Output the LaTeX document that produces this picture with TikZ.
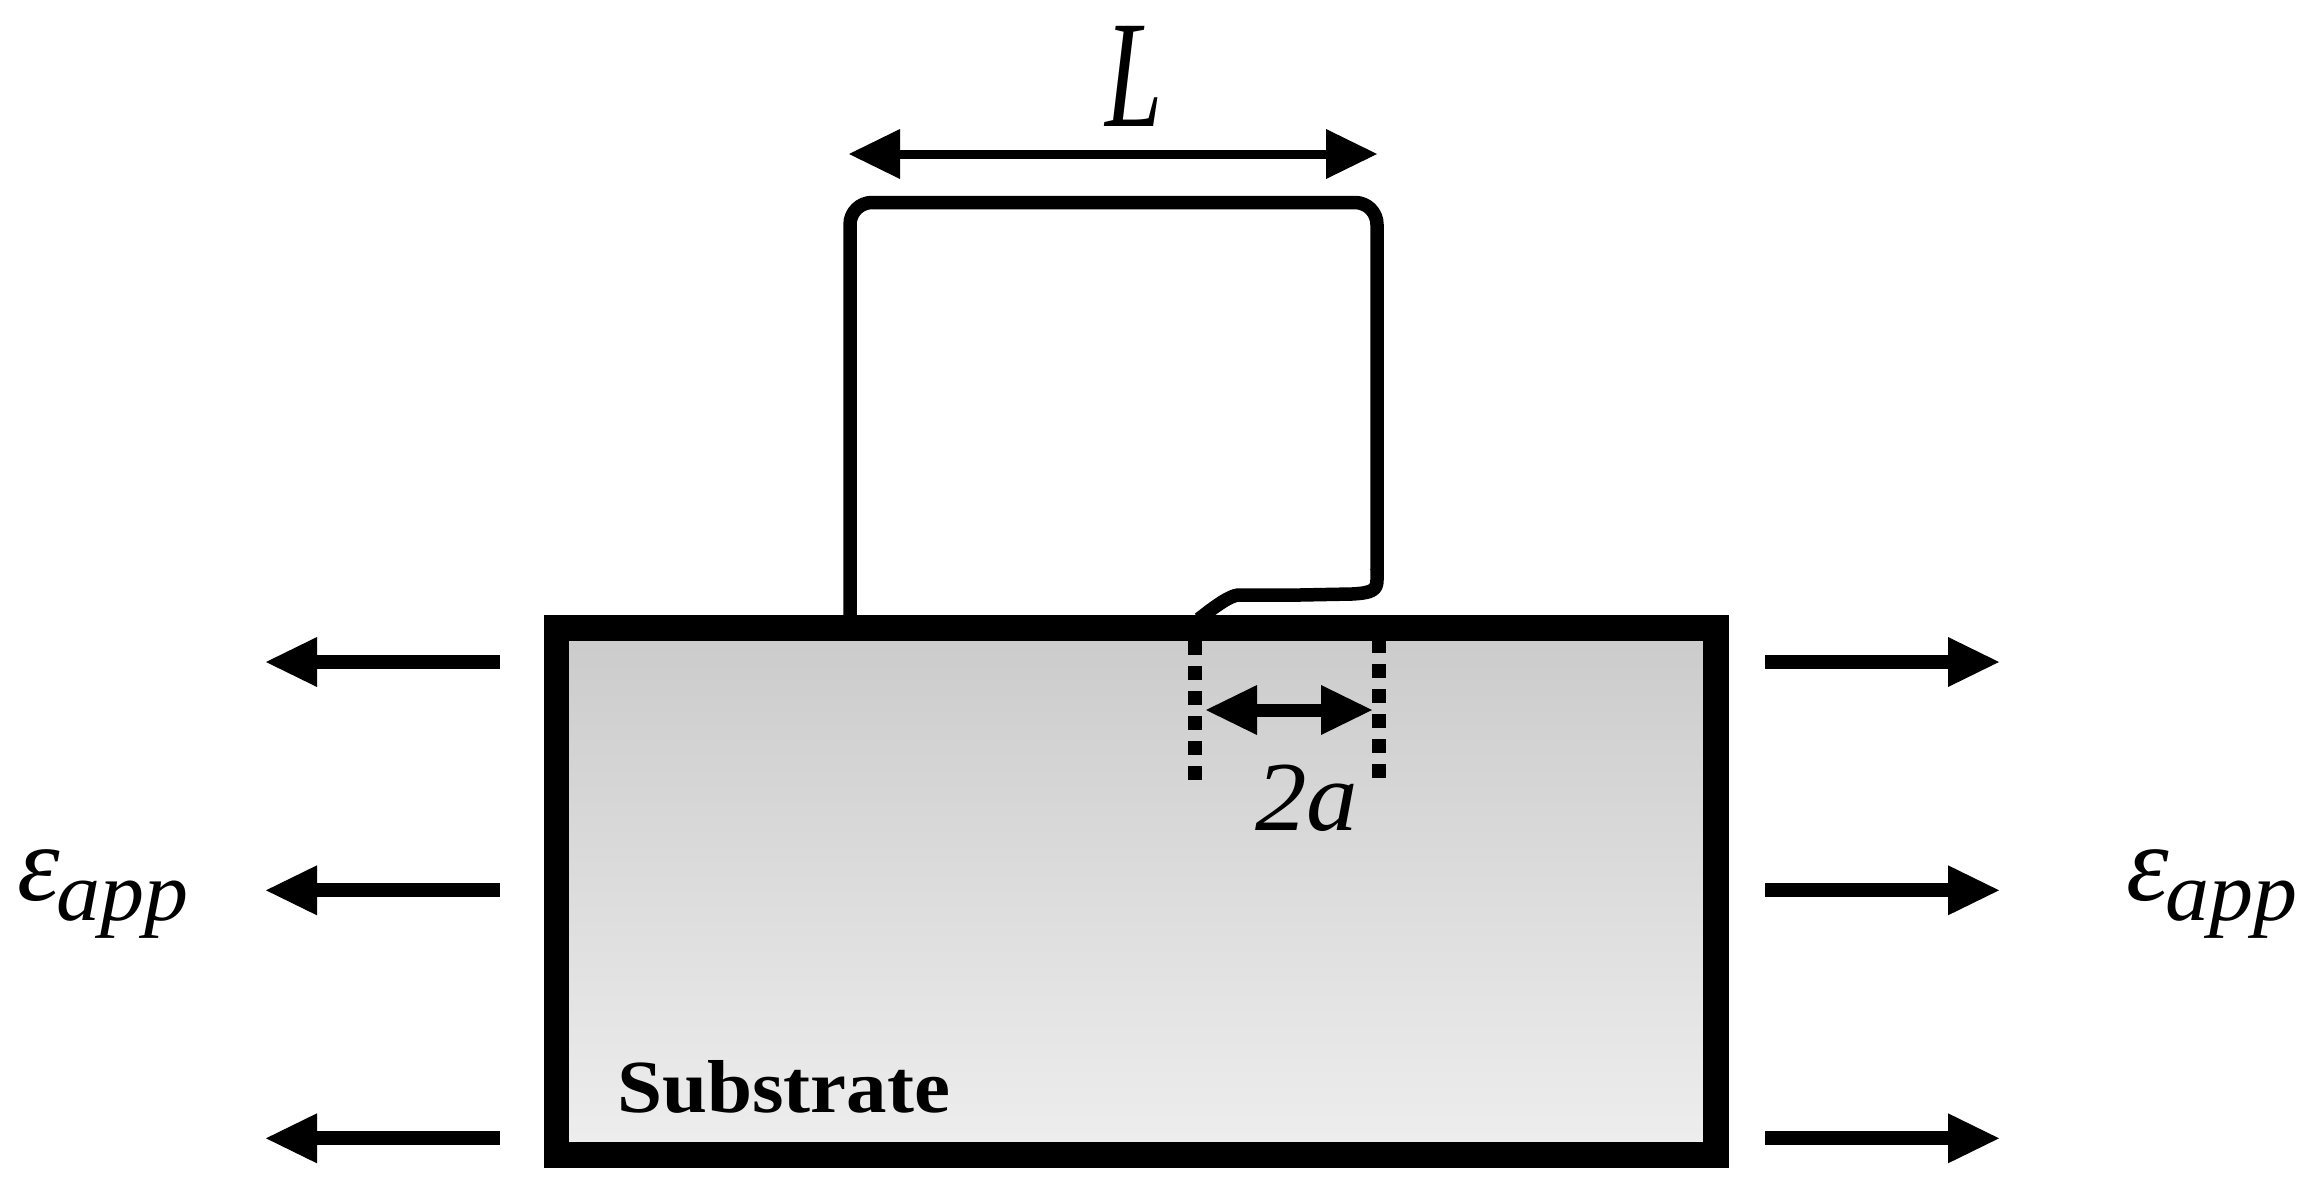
\documentclass[tikz,border=0pt]{standalone}
\usepackage{graphicx}
\usepackage{fontspec}
\newfontfamily\subfont{Liberation Serif}
\usetikzlibrary{arrows.meta}
\definecolor{shadetop}{RGB}{203,203,203}
\definecolor{shadebot}{RGB}{238,238,238}
\newcommand{\epsapp}{\subfont\itshape\scalebox{10.8}{ε}\kern-3pt\raisebox{-20pt}{\scalebox{8.8}[8.4]{app}}}
\tikzset{
  bigarrow/.style={line width=14pt,line cap=butt,-{Triangle[length=51pt,width=50pt,line width=0pt]}},
  dimarrow/.style={line width=#1,line cap=butt,{Triangle[length=51pt,width=50pt,line width=0pt]}-{Triangle[length=51pt,width=50pt,line width=0pt]}},
  wire/.style={line width=13.5pt,line join=round,line cap=butt},
  dots/.style={line width=14pt,dash pattern=on 14pt off 11pt},
  lab/.style={inner sep=0pt,outer sep=0pt,anchor=base west},
  block/.style={draw=black,line width=25.5pt,top color=shadetop,bottom color=shadebot,inner sep=0pt,outer sep=0pt,minimum width=1159.5pt,minimum height=527pt}
}
\begin{document}
\begin{tikzpicture}[x=1pt,y=-1pt]
\useasboundingbox[fill=white] (0,0) rectangle (2313,1192);
% coordinates
\foreach \n/\y in {a/662,b/890.3,c/1138.3}{
  \coordinate (ls\n) at (500,\y);
  \coordinate (le\n) at (266,\y);
  \coordinate (rs\n) at (1765,\y);
  \coordinate (re\n) at (1999,\y);
}
\coordinate (La) at (849,154);
\coordinate (Lb) at (1377,154);
\coordinate (wa) at (1206,710);
\coordinate (wb) at (1372,710);
\coordinate (dla) at (1195,641);
\coordinate (dlb) at (1195,780);
\coordinate (dra) at (1378.7,639);
\coordinate (drb) at (1378.7,778);
% substrate
\node[block] (sub) at (1136.25,891.35) {};
\draw[dots] (dla) -- (dlb);
\draw[dots] (dra) -- (drb);
% loop
\draw[wire,rounded corners=22pt] (850,618) -- (850,202.5) -- (1377,202.5) -- (1377,570);
\draw[wire] (1377,569) -- (1377,580) .. controls (1377,590) and (1372,593) .. (1352,594)
  -- (1300,595) -- (1238,595) .. controls (1230,596) and (1218,604) .. (1199,619);
% arrows
\foreach \n in {a,b,c}{
  \draw[bigarrow] (ls\n) -- (le\n);
  \draw[bigarrow] (rs\n) -- (re\n);
}
\draw[dimarrow=9pt] (La) -- (Lb);
\draw[dimarrow=13pt] (wa) -- (wb);
% labels
\node[lab] (Ltext) at (1105,126) {\scalebox{10.3}[15.3]{\subfont\itshape L}};
\node[lab] (twoa) at (1255,830.7) {\scalebox{10.3}[9.9]{\subfont\itshape 2a}};
\node[lab] (epsl) at (17,900) {\epsapp};
\node[lab] (epsr) at (2126,900) {\epsapp};
\node[lab] (subtxt) at (617,1112) {\scalebox{8.1}[7.5]{\subfont\bfseries Substrate}};
\end{tikzpicture}
\end{document}
